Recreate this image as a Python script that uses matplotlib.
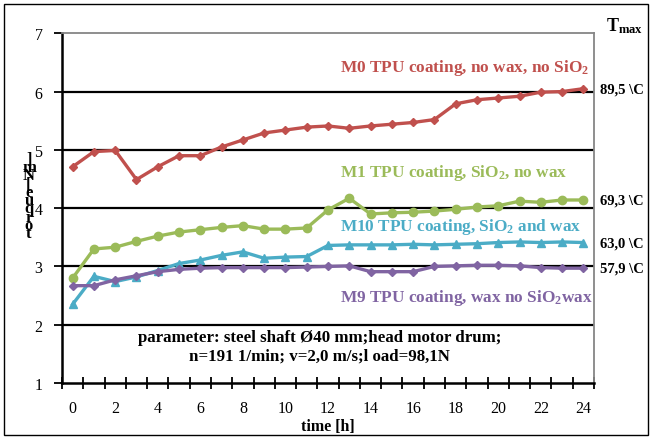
import matplotlib.pyplot as plt
from matplotlib.patches import Rectangle

plt.rcParams['font.family'] = ['Liberation Serif', 'DejaVu Serif']
plt.rcParams['mathtext.fontset'] = 'custom'
plt.rcParams['mathtext.bf'] = 'Liberation Serif:bold'
plt.rcParams['mathtext.rm'] = 'Liberation Serif:bold'
plt.rcParams['mathtext.default'] = 'bf'

# time [h], one value per hour
hours = list(range(25))

m0 = [4.71, 4.97, 4.99, 4.49, 4.71, 4.90, 4.90, 5.05, 5.17, 5.29, 5.34, 5.39, 5.41,
      5.37, 5.41, 5.44, 5.47, 5.52, 5.79, 5.86, 5.89, 5.92, 5.99, 6.00, 6.05]
m1 = [2.80, 3.30, 3.33, 3.43, 3.52, 3.59, 3.63, 3.67, 3.70, 3.64, 3.64, 3.66, 3.97,
      4.17, 3.90, 3.92, 3.93, 3.95, 3.98, 4.02, 4.04, 4.12, 4.10, 4.14, 4.14]
m10 = [2.35, 2.83, 2.74, 2.82, 2.93, 3.05, 3.11, 3.19, 3.25, 3.14, 3.16, 3.17, 3.36,
       3.37, 3.37, 3.37, 3.38, 3.37, 3.38, 3.39, 3.41, 3.42, 3.41, 3.42, 3.41]
m9 = [2.67, 2.67, 2.77, 2.84, 2.91, 2.95, 2.97, 2.98, 2.98, 2.98, 2.98, 2.99, 3.00,
      3.01, 2.91, 2.91, 2.91, 3.00, 3.01, 3.02, 3.02, 3.01, 2.98, 2.97, 2.97]

labels = ['M0 TPU coating, no wax, no SiO$_2$',
          'M1 TPU coating, SiO$_2$, no wax',
          'M10 TPU coating, SiO$_2$ and wax',
          'M9 TPU coating, wax no SiO$_2$wax']
label_y = [6.42, 4.62, 3.70, 2.48]
tmax = ['89,5 \\C', '69,3 \\C', '63,0 \\C', '57,9 \\C']
colors = ['#C0504D', '#9BBB59', '#4BACC6', '#8064A2']
markers = ['D', 'o', '^', 'D']
msizes = [4.5, 6, 6, 4.5]

fig = plt.figure(figsize=(6.5, 4.39), dpi=100)
ax = fig.add_axes([62 / 650, 1 - 384 / 439, 532 / 650, (384 - 34.3) / 439])

for ys, c, mk, ms in zip([m0, m1, m10, m9], colors, markers, msizes):
    ax.plot(hours, ys, color=c, lw=2.4, marker=mk, ms=ms, zorder=3)

ax.set_xlim(-0.5, 24.5)
ax.set_ylim(1, 7)
ax.set_yticks(range(1, 8))
ax.set_xticks(hours[::2])
ax.set_xticks([h - 0.5 for h in hours] + [24.5], minor=True)
ax.tick_params(axis='x', which='major', length=0, pad=12, labelsize=11.5)
ax.tick_params(axis='x', which='minor', direction='inout', length=8, width=1.3)
ax.tick_params(axis='y', direction='out', length=6, width=1.3, pad=8, labelsize=11.5)

for y in range(2, 7):
    ax.axhline(y, color='black', lw=1.6, zorder=1)
ax.spines['left'].set_linewidth(1.8)
ax.spines['bottom'].set_linewidth(1.8)
for s in ['top', 'right']:
    ax.spines[s].set_color('#868686')
    ax.spines[s].set_linewidth(1.3)

for lab, ly, c in zip(labels, label_y, colors):
    ax.text(12.55, ly, lab, color=c, fontsize=12.4, fontweight='bold',
            ha='left', va='center', clip_on=False)

for t, ys in zip(tmax, [m0, m1, m10, m9]):
    ax.text(1.012, ys[-1], t, transform=ax.get_yaxis_transform(), fontsize=10.5,
            fontweight='bold', ha='left', va='center')

ax.text(1.022, 0.995, 'T$_{\\mathbf{max}}$', transform=ax.transAxes, fontsize=13,
        fontweight='bold', ha='left', va='bottom')

ax.text(11.6, 1.63, 'parameter: steel shaft \u00d840 mm;head motor drum;\n'
        'n=191 1/min; v=2,0 m/s;l oad=98,1N',
        ha='center', va='center', fontsize=12.2, fontweight='bold', linespacing=1.25)
ax.set_xlabel('time [h]', fontsize=11.5, fontweight='bold', labelpad=2)

fig.text(29 / 650, 1 - 197 / 439, ']\nm\nN\n[\ne\nu\nq\nr\no\nt', fontsize=12,
         fontweight='bold', ha='center', va='center', linespacing=0.36)

fig.patches.append(Rectangle((4 / 650, 3 / 439), 644 / 650, 431 / 439,
                             transform=fig.transFigure, fill=False,
                             edgecolor='black', lw=1))

fig.savefig('out.png', dpi=100)
